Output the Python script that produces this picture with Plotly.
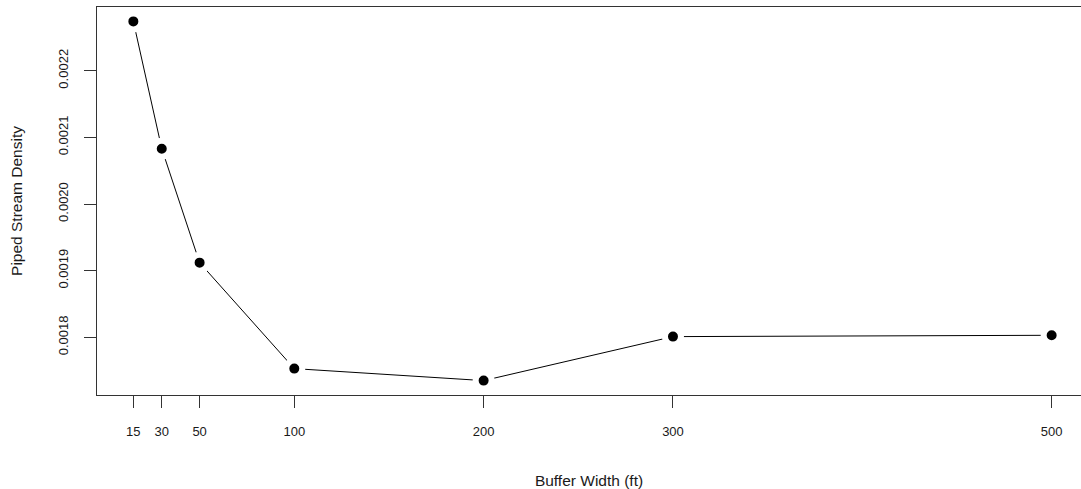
import plotly.graph_objects as go

buffer_width = [15, 30, 50, 100, 200, 300, 500]
density = [0.002274, 0.002083, 0.001912, 0.001753, 0.001735, 0.001801, 0.001803]
x_ticks = [15, 30, 50, 100, 200, 300, 500]
y_ticks = [0.0018, 0.0019, 0.0020, 0.0021, 0.0022]
y_ticklabels = ["0.0018", "0.0019", "0.0020", "0.0021", "0.0022"]

FONT = "Liberation Sans, Arial, Helvetica, sans-serif"
INK = "#1a1a1a"

fig = go.Figure()
fig.add_trace(go.Scatter(
    x=buffer_width, y=density, mode="lines+markers",
    line=dict(color="black", width=1),
    marker=dict(color="black", size=16, line=dict(color="white", width=6)),
    showlegend=False, hoverinfo="x+y",
))

fig.update_layout(
    width=1081, height=489,
    margin=dict(l=97, r=0, t=7, b=94, autoexpand=False),
    paper_bgcolor="white", plot_bgcolor="white",
    font=dict(family=FONT, size=13, color=INK),
    xaxis=dict(
        range=[-4.2, 515.5], tickmode="array", tickvals=x_ticks,
        ticktext=[str(v) for v in x_ticks],
        showgrid=False, zeroline=False,
        showline=True, linecolor="#333", linewidth=1, mirror=True,
        ticks="outside", ticklen=12, tickwidth=1, tickcolor="#333",
        ticklabelstandoff=12,
        tickfont=dict(size=13, color=INK),
        title=dict(text="Buffer Width (ft)", font=dict(size=15.5, color=INK), standoff=38),
        automargin=False,
    ),
    yaxis=dict(
        range=[0.0017134, 0.0022956], tickmode="array", tickvals=y_ticks,
        ticktext=y_ticklabels, tickangle=-90,
        showgrid=False, zeroline=False,
        showline=True, linecolor="#333", linewidth=1, mirror=False,
        ticks="outside", ticklen=12, tickwidth=1, tickcolor="#333",
        ticklabelstandoff=11,
        tickfont=dict(size=13, color=INK),
        title=dict(text="Piped Stream Density", font=dict(size=15.5, color=INK), standoff=29),
        automargin=False,
    ),
)

fig.write_html("out.html")
